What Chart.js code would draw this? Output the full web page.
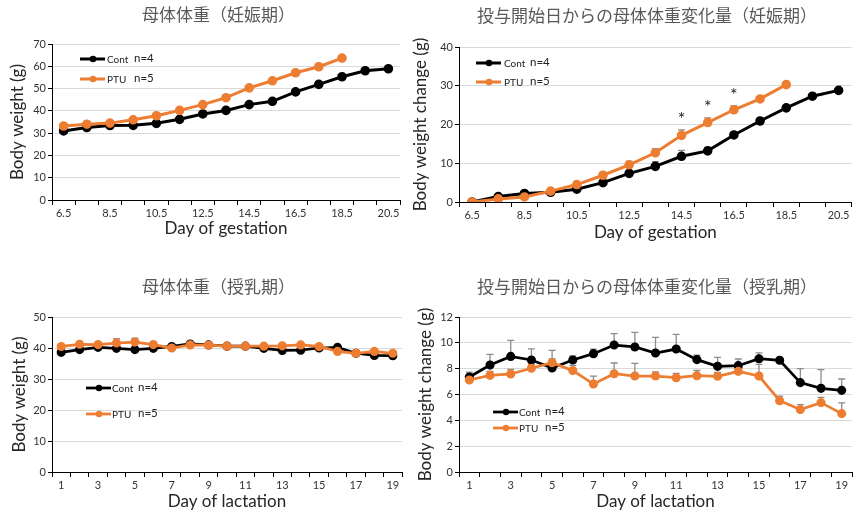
<!DOCTYPE html>
<html>
<head>
<meta charset="utf-8">
<script src="https://cdn.jsdelivr.net/npm/chart.js@4"></script>
<style>
  body { margin: 0; background: #fff; }
  .box { position: absolute; }
</style>
</head>
<body>
<div class="box" style="left:0;top:0;width:410px;height:250px"><canvas id="c1"></canvas></div>
<div class="box" style="left:410px;top:0;width:448px;height:250px"><canvas id="c2"></canvas></div>
<div class="box" style="left:0;top:255px;width:410px;height:258px"><canvas id="c3"></canvas></div>
<div class="box" style="left:410px;top:255px;width:448px;height:258px"><canvas id="c4"></canvas></div>
<script>
// 妊娠期 / 授乳期 の日
const gestDays = ['6.5', '7.5', '8.5', '9.5', '10.5', '11.5', '12.5', '13.5', '14.5', '15.5', '16.5', '17.5', '18.5', '19.5', '20.5'];
const lactDays = ['1', '2', '3', '4', '5', '6', '7', '8', '9', '10', '11', '12', '13', '14', '15', '16', '17', '18', '19'];
const groupN = ['n=4', 'n=5'];

// 母体体重（妊娠期）
const gestWeightCont = [31.0, 32.5, 33.4, 33.5, 34.4, 36.2, 38.6, 40.2, 42.8, 44.3, 48.5, 51.9, 55.3, 58.0, 58.9];
const gestWeightPTU = [33.2, 34.0, 34.5, 36.0, 37.8, 40.2, 42.8, 45.9, 50.3, 53.5, 57.1, 59.8, 63.7, null, null];
const gestWeightContErr = [0.4, 0.4, 0.4, 0.4, 0.5, 0.5, 0.5, 0.6, 0.6, 0.6, 0.6, 0.6, 0.7, 0.7, 0.7];
const gestWeightPTUErr = [0.4, 0.4, 0.4, 0.5, 0.5, 0.5, 0.6, 0.6, 0.7, 0.7, 0.7, 0.7, 0.7, null, null];

// 投与開始日からの母体体重変化量（妊娠期）
const gestChangeCont = [0, 1.4, 2.2, 2.5, 3.3, 5.0, 7.4, 9.2, 11.8, 13.2, 17.3, 20.9, 24.3, 27.3, 28.8];
const gestChangePTU = [0, 0.8, 1.3, 2.8, 4.5, 6.9, 9.6, 12.7, 17.2, 20.5, 23.8, 26.6, 30.3, null, null];
const gestChangeContErr = [0, 0.2, 0.3, 0.3, 0.4, 0.4, 0.6, 1.2, 1.5, 0.9, 0.6, 0.5, 0.5, 0.5, 0.5];
const gestChangePTUErr = [0, 0.2, 0.3, 0.3, 0.4, 0.5, 0.9, 1.1, 1.4, 1.2, 1.0, 0.6, 0.6, null, null];
const gestChangeSig = ['', '', '', '', '', '', '', '', '*', '*', '*', '', '', '', ''];

// 母体体重（授乳期）
const lactWeightCont = [38.6, 39.5, 40.2, 39.9, 39.5, 39.9, 40.5, 41.3, 41.0, 40.6, 40.6, 39.9, 39.2, 39.3, 40.0, 40.2, 38.3, 37.6, 37.5];
const lactWeightPTU = [40.5, 41.2, 41.1, 41.6, 41.9, 41.1, 40.0, 41.0, 40.9, 40.6, 40.6, 40.6, 40.7, 41.0, 40.5, 38.9, 38.3, 38.9, 38.3];
const lactWeightContErr = [0.5, 0.5, 0.5, 0.5, 0.5, 0.5, 0.5, 0.5, 0.5, 0.5, 0.5, 0.5, 0.5, 0.5, 0.5, 0.5, 0.5, 0.5, 0.5];
const lactWeightPTUErr = [0.4, 0.4, 0.5, 1.4, 1.3, 0.5, 0.4, 0.4, 0.4, 0.4, 0.4, 0.4, 0.4, 0.4, 0.6, 0.4, 0.4, 0.4, 0.4];

// 投与開始日からの母体体重変化量（授乳期）
const lactChangeCont = [7.35, 8.28, 8.95, 8.67, 8.05, 8.67, 9.16, 9.83, 9.68, 9.21, 9.52, 8.70, 8.18, 8.23, 8.77, 8.65, 6.92, 6.48, 6.32];
const lactChangePTU = [7.12, 7.48, 7.59, 8.03, 8.46, 7.85, 6.81, 7.61, 7.43, 7.43, 7.30, 7.46, 7.41, 7.79, 7.43, 5.52, 4.83, 5.37, 4.52];
const lactChangeContErr = [0.39, 0.83, 1.24, 0.86, 1.37, 0.31, 0.36, 0.88, 1.13, 1.22, 1.14, 0.34, 0.70, 0.52, 0.46, 0.1, 1.08, 1.44, 0.88];
const lactChangePTUErr = [0.3, 0.3, 0.36, 0.3, 0.3, 0.4, 0.62, 0.83, 0.98, 0.32, 0.34, 0.41, 0.3, 0.5, 0.9, 0.36, 0.39, 0.41, 0.83];

const ORANGE = '#ED7D31';
const FONT = 'Lato, "Noto Sans", sans-serif';
const JP = '"Noto Sans CJK JP", sans-serif';

// エラーバー・有意差マーク・タイトル・凡例
const extras = {
  id: 'extras',
  beforeDatasetsDraw(chart) {
    const ctx = chart.ctx, ys = chart.scales.y;
    ctx.save();
    ctx.strokeStyle = '#8c8c8c';
    ctx.lineWidth = 1.3;
    chart.data.datasets.forEach((ds, i) => {
      if (!ds.errorUp) return;
      chart.getDatasetMeta(i).data.forEach((pt, j) => {
        const v = ds.data[j], e = ds.errorUp[j];
        if (v == null || !e) return;
        const top = ys.getPixelForValue(v + e);
        ctx.beginPath();
        ctx.moveTo(pt.x, pt.y);
        ctx.lineTo(pt.x, top);
        ctx.moveTo(pt.x - 3.5, top);
        ctx.lineTo(pt.x + 3.5, top);
        ctx.stroke();
      });
    });
    ctx.restore();
  },
  afterDatasetsDraw(chart) {
    const ctx = chart.ctx, ys = chart.scales.y;
    ctx.save();
    ctx.fillStyle = '#222';
    ctx.font = '18px ' + FONT;
    ctx.textAlign = 'center';
    ctx.textBaseline = 'alphabetic';
    chart.data.datasets.forEach((ds, i) => {
      if (!ds.sig) return;
      chart.getDatasetMeta(i).data.forEach((pt, j) => {
        if (!ds.sig[j]) return;
        const top = ys.getPixelForValue(ds.data[j] + (ds.errorUp ? ds.errorUp[j] : 0));
        ctx.fillText(ds.sig[j], pt.x, top - 4.5);
      });
    });
    ctx.restore();
  },
  afterDraw(chart, args, o) {
    const ctx = chart.ctx, area = chart.chartArea;
    ctx.save();
    ctx.fillStyle = '#595959';
    ctx.font = '17px ' + JP;
    ctx.textAlign = 'left';
    ctx.textBaseline = 'middle';
    ctx.fillText(o.title, o.titleX, o.titleY);

    chart.data.datasets.forEach((ds, i) => {
      const x = area.left + o.dx;
      const y = area.top + o.dy + i * o.gap;
      ctx.strokeStyle = ds.borderColor;
      ctx.lineWidth = ds.borderWidth;
      ctx.beginPath();
      ctx.moveTo(x, y);
      ctx.lineTo(x + 25, y);
      ctx.stroke();
      ctx.fillStyle = ds.borderColor;
      ctx.beginPath();
      ctx.arc(x + 13, y, ds.pointRadius, 0, Math.PI * 2);
      ctx.fill();
      ctx.fillStyle = '#222';
      ctx.textAlign = 'left';
      ctx.font = '10px ' + FONT;
      ctx.fillText(ds.label, x + o.labelDx, y + 0.5);
      ctx.font = '11.5px ' + FONT;
      ctx.fillText(ds.nLabel, x + o.nDx, y - 0.5);
    });
    ctx.restore();
  }
};

function makeChart(id, p) {
  const font = (size) => ({ family: FONT, size: size });
  return new Chart(document.getElementById(id), {
    type: 'line',
    data: {
      labels: p.labels,
      datasets: [
        {
          label: 'Cont', data: p.cont, errorUp: p.contErr, nLabel: groupN[0],
          borderColor: '#000', backgroundColor: '#000', pointBackgroundColor: '#000',
          borderWidth: p.lw, pointRadius: p.r, pointHoverRadius: p.r, tension: 0, order: 2
        },
        {
          label: 'PTU', data: p.ptu, errorUp: p.ptuErr, sig: p.sig, nLabel: groupN[1],
          borderColor: ORANGE, backgroundColor: ORANGE, pointBackgroundColor: ORANGE,
          borderWidth: p.lw, pointRadius: p.r, pointHoverRadius: p.r, tension: 0, order: 1
        }
      ]
    },
    options: {
      responsive: true,
      maintainAspectRatio: false,
      animation: false,
      layout: { padding: { left: 0, right: p.padRight, top: p.top, bottom: 0 } },
      plugins: {
        legend: { display: false },
        tooltip: { enabled: false },
        extras: {
          title: p.title, titleX: p.titleX, titleY: p.titleY,
          dx: p.legDx, dy: p.legDy, gap: p.legGap, labelDx: p.labelDx, nDx: p.nDx
        }
      },
      scales: {
        x: {
          offset: true,
          grid: { offset: true, drawOnChartArea: false, tickLength: 5, tickColor: '#000' },
          border: { color: '#000', width: 1 },
          ticks: {
            autoSkip: false, maxRotation: 0, padding: 2, color: '#333', font: font(11),
            callback: function (value, index) {
              return index % 2 === 0 ? this.getLabelForValue(value) : '';
            }
          },
          title: { display: true, text: p.xTitle, color: '#262626', font: font(17), padding: { top: 0, bottom: p.xTitlePad } },
          afterFit: (s) => { s.height = p.xHeight; }
        },
        y: {
          min: 0, max: p.yMax,
          grid: { color: '#d9d9d9', tickColor: '#000', tickLength: 4 },
          border: { color: '#000', width: 1 },
          ticks: { stepSize: p.yStep, padding: 2, color: '#333', font: font(11) },
          title: { display: true, text: p.yTitle, color: '#262626', font: font(17), padding: { top: p.yTitlePad, bottom: 0 } },
          afterFit: (s) => { s.width = p.yWidth; }
        }
      }
    },
    plugins: [extras]
  });
}

makeChart('c1', {
  labels: gestDays, cont: gestWeightCont, ptu: gestWeightPTU, contErr: gestWeightContErr, ptuErr: gestWeightPTUErr,
  title: '母体体重（妊娠期）', titleX: 142, titleY: 15,
  xTitle: 'Day of gestation', yTitle: 'Body weight (g)', yMax: 70, yStep: 10,
  top: 44, padRight: 10, yWidth: 52, xHeight: 50, xTitlePad: 10.8, yTitlePad: 7.3,
  lw: 3, r: 3.3, legDx: 28, legDy: 15, legGap: 20, labelDx: 27, nDx: 54
});

makeChart('c2', {
  labels: gestDays, cont: gestChangeCont, ptu: gestChangePTU, contErr: gestChangeContErr, ptuErr: gestChangePTUErr, sig: gestChangeSig,
  title: '投与開始日からの母体体重変化量（妊娠期）', titleX: 67, titleY: 16,
  xTitle: 'Day of gestation', yTitle: 'Body weight change (g)', yMax: 40, yStep: 10,
  top: 47, padRight: 1, yWidth: 49, xHeight: 48, xTitlePad: 6.8, yTitlePad: 0,
  lw: 3, r: 3.3, legDx: 17, legDy: 16, legGap: 19, labelDx: 28, nDx: 54
});

makeChart('c3', {
  labels: lactDays, cont: lactWeightCont, ptu: lactWeightPTU, contErr: lactWeightContErr, ptuErr: lactWeightPTUErr,
  title: '母体体重（授乳期）', titleX: 142, titleY: 32,
  xTitle: 'Day of lactation', yTitle: 'Body weight (g)', yMax: 50, yStep: 10,
  top: 62, padRight: 8, yWidth: 52, xHeight: 41, xTitlePad: 0.8, yTitlePad: 9.3,
  lw: 2.75, r: 3.2, legDx: 34, legDy: 71, legGap: 26, labelDx: 26, nDx: 52
});

makeChart('c4', {
  labels: lactDays, cont: lactChangeCont, ptu: lactChangePTU, contErr: lactChangeContErr, ptuErr: lactChangePTUErr,
  title: '投与開始日からの母体体重変化量（授乳期）', titleX: 67, titleY: 32,
  xTitle: 'Day of lactation', yTitle: 'Body weight change (g)', yMax: 12, yStep: 2,
  top: 62, padRight: 1, yWidth: 49, xHeight: 41, xTitlePad: 0.8, yTitlePad: 5.8,
  lw: 2.75, r: 3.2, legDx: 34, legDy: 95, legGap: 16, labelDx: 26, nDx: 52
});
</script>
</body>
</html>
